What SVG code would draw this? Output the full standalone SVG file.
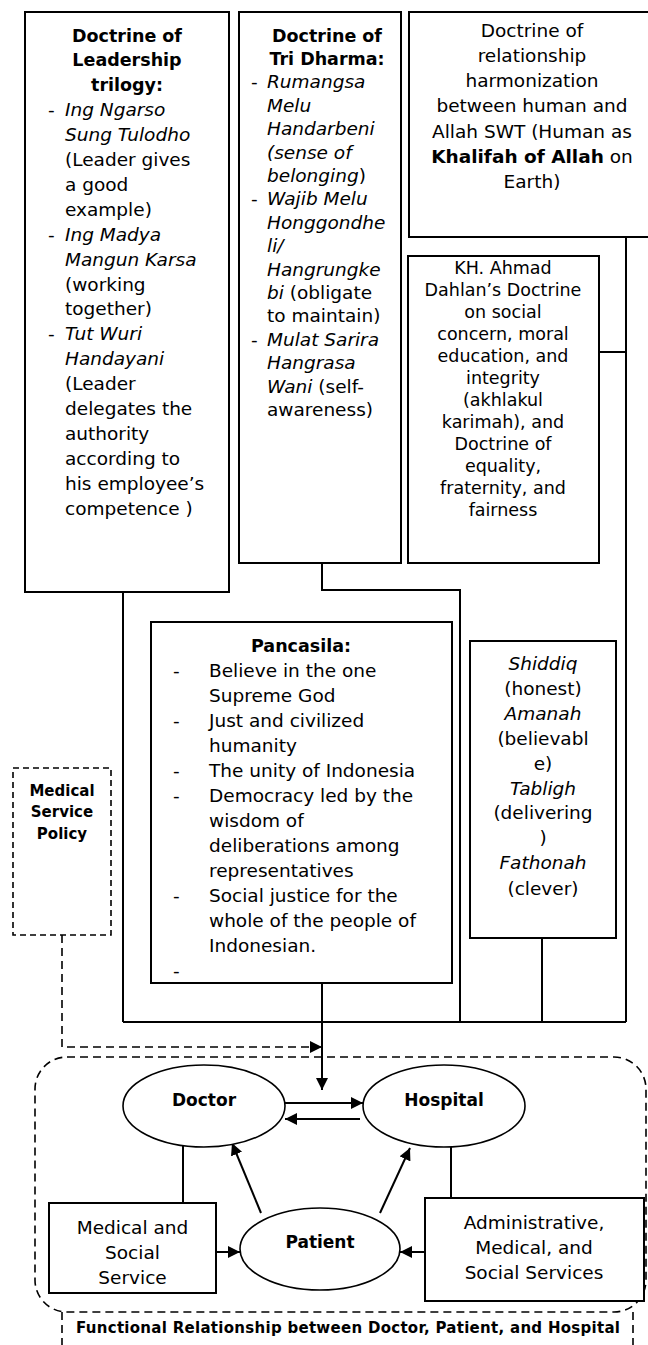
<svg xmlns="http://www.w3.org/2000/svg" width="648" height="1345" viewBox="0 0 648 1345">
<style>
text{font-family:"DejaVu Sans","Verdana",sans-serif;font-size:18.5px;fill:#000}
.b{font-weight:bold}
.i{font-style:italic}
.c{text-anchor:middle}
.t{font-weight:bold;font-size:17.5px}
.s{font-size:17.5px}
.box{fill:#fff;stroke:#000;stroke-width:2}
.ln{fill:none;stroke:#000;stroke-width:2}
.dl{fill:none;stroke:#000;stroke-width:1.6;stroke-dasharray:8 5}
.dp{fill:none;stroke:#000;stroke-width:1.6;stroke-dasharray:6 4}
.ell{fill:#fff;stroke:#000;stroke-width:1.6}
.pol{font-weight:bold;font-size:15px}
.nd{font-weight:bold;font-size:17px}
</style>
<defs>
<marker id="ah" viewBox="0 0 10 10" refX="10" refY="5" markerWidth="10" markerHeight="10" markerUnits="userSpaceOnUse" orient="auto">
<path d="M0,0 L10,5 L0,10 Z" fill="#000"/>
</marker>
<marker id="ah2" viewBox="0 0 12 12" refX="12" refY="6" markerWidth="12" markerHeight="12" markerUnits="userSpaceOnUse" orient="auto">
<path d="M0,0 L12,6 L0,12 Z" fill="#000"/>
</marker>
</defs>

<g id="connectors">
<path class="ln" d="M123,592 V1022"/>
<path class="ln" d="M322,563 V590 H460 V1022"/>
<path class="ln" d="M626,237 V1022"/>
<path class="ln" d="M599,352 H626"/>
<path class="ln" d="M542,938 V1022"/>
<path class="ln" d="M123,1022 H626"/>
<path class="ln" d="M322,983 V1090" marker-end="url(#ah2)"/>
<path class="dl" d="M62,935 V1047 H322" marker-end="url(#ah2)"/>
<path class="ln" d="M285,1103 H363" marker-end="url(#ah2)"/>
<path class="ln" d="M360,1119 H285" marker-end="url(#ah2)"/>
<path class="ln" d="M183,1203 V1146"/>
<path class="ln" d="M451,1198 V1147"/>
<path class="ln" d="M261,1213 L232,1143" marker-end="url(#ah2)"/>
<path class="ln" d="M380,1213 L410,1148" marker-end="url(#ah2)"/>
<path class="ln" d="M216,1252 H240" marker-end="url(#ah2)"/>
<path class="ln" d="M425,1252 H400" marker-end="url(#ah2)"/>
</g>

<g id="leadership">
<rect class="box" x="25" y="12" width="204" height="580"/>
<text class="t c" x="127" y="41.5">Doctrine of</text>
<text class="t c" x="127" y="66.4">Leadership</text>
<text class="t c" x="127" y="91.3">trilogy:</text>
<text x="48" y="116.2">-</text><text class="i" x="65" y="116.2">Ing Ngarso</text>
<text class="i" x="65" y="141.1">Sung Tulodho</text>
<text x="65" y="166">(Leader gives</text>
<text x="65" y="190.9">a good</text>
<text x="65" y="215.8">example)</text>
<text x="48" y="240.7">-</text><text class="i" x="65" y="240.7">Ing Madya</text>
<text class="i" x="65" y="265.6">Mangun Karsa</text>
<text x="65" y="290.5">(working</text>
<text x="65" y="315.4">together)</text>
<text x="48" y="340.3">-</text><text class="i" x="65" y="340.3">Tut Wuri</text>
<text class="i" x="65" y="365.2">Handayani</text>
<text x="65" y="390.1">(Leader</text>
<text x="65" y="415">delegates the</text>
<text x="65" y="439.9">authority</text>
<text x="65" y="464.8">according to</text>
<text x="65" y="489.7">his employee’s</text>
<text x="65" y="514.6">competence )</text>
</g>

<g id="tridharma">
<rect class="box" x="239" y="12" width="162" height="551"/>
<text class="t c" x="327" y="41.5">Doctrine of</text>
<text class="t c" x="327" y="64.9">Tri Dharma:</text>
<text x="251" y="88.3">-</text><text class="i" x="267" y="88.3">Rumangsa</text>
<text class="i" x="267" y="111.7">Melu</text>
<text class="i" x="267" y="135.1">Handarbeni</text>
<text class="i" x="267" y="158.5">(sense of</text>
<text x="267" y="181.9"><tspan class="i">belonging</tspan>)</text>
<text x="251" y="205.3">-</text><text class="i" x="267" y="205.3">Wajib Melu</text>
<text class="i" x="267" y="228.7">Honggondhe</text>
<text class="i" x="267" y="252.1">li/</text>
<text class="i" x="267" y="275.5">Hangrungke</text>
<text x="267" y="298.9"><tspan class="i">bi</tspan> (obligate</text>
<text x="267" y="322.3">to maintain)</text>
<text x="251" y="345.7">-</text><text class="i" x="267" y="345.7">Mulat Sarira</text>
<text class="i" x="267" y="369.1">Hangrasa</text>
<text x="267" y="392.5"><tspan class="i">Wani</tspan> (self-</text>
<text x="267" y="415.9">awareness)</text>
</g>

<g id="allah">
<rect class="box" x="409" y="12" width="240" height="225"/>
<text class="c" x="532" y="36.5">Doctrine of</text>
<text class="c" x="532" y="61.8">relationship</text>
<text class="c" x="532" y="87.1">harmonization</text>
<text class="c" x="532" y="112.4">between human and</text>
<text class="c" x="532" y="137.7">Allah SWT (Human as</text>
<text class="c" x="532" y="163"><tspan class="b">Khalifah of Allah</tspan> on</text>
<text class="c" x="532" y="188.3">Earth)</text>
</g>

<g id="dahlan">
<rect class="box" x="408" y="256" width="191" height="307"/>
<text class="c s" x="503" y="273.5">KH. Ahmad</text>
<text class="c s" x="503" y="295.5">Dahlan’s Doctrine</text>
<text class="c s" x="503" y="317.5">on social</text>
<text class="c s" x="503" y="339.5">concern, moral</text>
<text class="c s" x="503" y="361.5">education, and</text>
<text class="c s" x="503" y="383.5">integrity</text>
<text class="c s" x="503" y="405.5">(akhlakul</text>
<text class="c s" x="503" y="427.5">karimah), and</text>
<text class="c s" x="503" y="449.5">Doctrine of</text>
<text class="c s" x="503" y="471.5">equality,</text>
<text class="c s" x="503" y="493.5">fraternity, and</text>
<text class="c s" x="503" y="515.5">fairness</text>
</g>

<g id="pancasila">
<rect class="box" x="151" y="622" width="301" height="361"/>
<text class="t c" x="301" y="651.5">Pancasila:</text>
<text x="173" y="676.5">-</text><text x="209" y="676.5">Believe in the one</text>
<text x="209" y="701.5">Supreme God</text>
<text x="173" y="726.5">-</text><text x="209" y="726.5">Just and civilized</text>
<text x="209" y="751.5">humanity</text>
<text x="173" y="776.5">-</text><text x="209" y="776.5">The unity of Indonesia</text>
<text x="173" y="801.5">-</text><text x="209" y="801.5">Democracy led by the</text>
<text x="209" y="826.5">wisdom of</text>
<text x="209" y="851.5">deliberations among</text>
<text x="209" y="876.5">representatives</text>
<text x="173" y="901.5">-</text><text x="209" y="901.5">Social justice for the</text>
<text x="209" y="926.5">whole of the people of</text>
<text x="209" y="951.5">Indonesian.</text>
<text x="173" y="976.5">-</text>
</g>

<g id="shiddiq">
<rect class="box" x="470" y="641" width="146" height="297"/>
<text class="c i" x="543" y="669.5">Shiddiq</text>
<text class="c" x="543" y="694.5">(honest)</text>
<text class="c i" x="543" y="719.5">Amanah</text>
<text class="c" x="543" y="744.5">(believabl</text>
<text class="c" x="543" y="769.5">e)</text>
<text class="c i" x="543" y="794.5">Tabligh</text>
<text class="c" x="543" y="819">(delivering</text>
<text class="c" x="543" y="843.5">)</text>
<text class="c i" x="543" y="868.5">Fathonah</text>
<text class="c" x="543" y="895">(clever)</text>
</g>

<g id="policy">
<rect class="dp" x="13" y="768" width="98" height="167"/>
<text class="pol c" x="62" y="795.5">Medical</text>
<text class="pol c" x="62" y="817">Service</text>
<text class="pol c" x="62" y="838.5">Policy</text>
</g>

<g id="container">
<rect class="dl" x="35" y="1057" width="611" height="255" rx="32" ry="32"/>
</g>

<g id="label">
<path class="dl" d="M62,1312 V1345 M633,1312 V1345"/>
<text class="pol" x="76" y="1332.5" textLength="544">Functional Relationship between Doctor, Patient, and Hospital</text>
</g>

<g id="doctor">
<ellipse class="ell" cx="204" cy="1106" rx="81" ry="41"/>
<text class="nd c" x="204" y="1106">Doctor</text>
</g>
<g id="hospital">
<ellipse class="ell" cx="444" cy="1106" rx="81" ry="41"/>
<text class="nd c" x="444" y="1106">Hospital</text>
</g>
<g id="patient">
<ellipse class="ell" cx="320" cy="1249" rx="80" ry="41"/>
<text class="nd c" x="320" y="1248">Patient</text>
</g>
<g id="medsocial">
<rect class="box" x="49" y="1203" width="167" height="90"/>
<text class="c" x="132.5" y="1233.5">Medical and</text>
<text class="c" x="132.5" y="1258.5">Social</text>
<text class="c" x="132.5" y="1283.5">Service</text>
</g>
<g id="admin">
<rect class="box" x="425" y="1198" width="219" height="103"/>
<text class="c" x="534" y="1228.5">Administrative,</text>
<text class="c" x="534" y="1253.5">Medical, and</text>
<text class="c" x="534" y="1278.5">Social Services</text>
</g>
</svg>
